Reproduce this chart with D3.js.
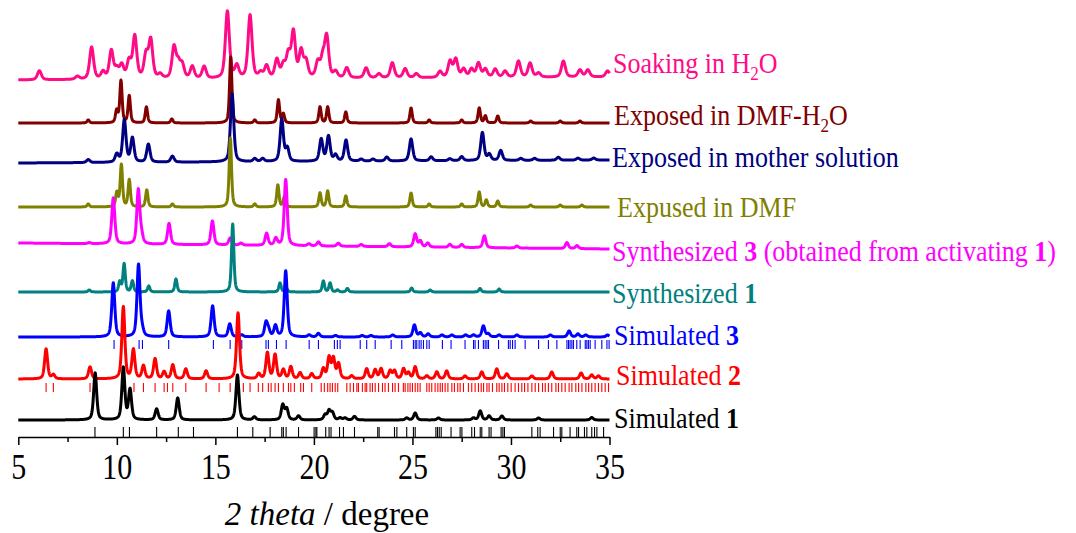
<!DOCTYPE html>
<html>
<head>
<meta charset="utf-8">
<script src="https://cdn.jsdelivr.net/npm/d3@7"></script>
<style>
body { margin: 0; background: #fff; }
text { font-family: "Times New Roman", "Liberation Serif", serif; }
</style>
</head>
<body>
<div id="chart"></div>
<script>
// x axis
var xTicks = [5, 10, 15, 20, 25, 30, 35];
var xMinorTicks = [7.5, 12.5, 17.5, 22.5, 27.5, 32.5];

// peaks: [2theta, height]
var soakingPeaks = [[6.07,9],[8.0,3],[8.72,32],[9.3,7],[9.72,28],[10.0,9],[10.25,13],[10.62,17],[10.91,42],[11.48,23],[11.72,38],[12.2,4],[12.9,31],[13.12,14],[13.32,13],[13.83,12],[14.43,12],[15.61,67],[16.09,12],[16.76,63],[17.3,5],[17.6,12],[18.12,18],[18.45,12],[18.7,22],[18.96,45],[19.35,26],[19.6,16],[20.2,15],[20.45,18],[20.65,40],[21.1,6],[21.67,10],[22.65,10],[23.3,4],[23.98,15],[24.63,9],[25.2,4],[26.4,6],[26.91,16],[27.2,18],[27.6,8],[28.0,8],[28.35,14],[28.7,8],[29.2,8],[29.7,6],[30.38,16],[30.97,14],[31.4,4],[32.66,16],[33.5,7],[33.9,7],[34.9,6]];
var dmfH2OPeaks = [[8.55,3],[9.99,12],[10.21,42],[10.63,27],[11.5,16],[12.79,4],[15.78,66],[17.0,3],[18.2,23],[18.45,9],[20.31,16],[20.7,16],[21.62,11],[24.93,15],[25.85,3],[27.5,3],[28.39,15],[28.7,7],[29.33,7],[31.0,2],[32.5,2],[33.5,2]];
var motherPeaks = [[8.55,3],[10.0,8],[10.38,42],[10.79,24],[11.6,18],[12.82,6],[15.85,68],[17.0,3],[17.4,3],[18.37,42],[18.65,13],[20.37,22],[20.74,25],[21.1,6],[21.63,21],[22.4,2],[23.0,2],[23.7,4],[24.93,22],[25.95,4],[26.9,2],[27.5,4],[28.55,28],[28.9,6],[29.48,10],[30.5,2],[31.2,2],[32.4,3],[33.4,2],[34.2,2]];
var dmfPeaks = [[8.55,3],[10.0,14],[10.23,42],[10.63,27],[11.52,17],[12.82,3],[15.76,69],[17.0,3],[18.17,22],[18.5,10],[20.31,14],[20.7,16],[21.62,11],[24.93,14],[25.85,3],[27.5,3],[28.39,15],[28.75,7],[29.33,6],[31.0,2],[32.5,2],[33.6,2]];
var synth3Peaks = [[8.6,1],[9.82,46],[11.09,54],[11.25,8],[12.65,21],[14.85,24],[15.75,7],[16.3,2],[17.6,12],[18.07,7],[18.57,66],[19.75,2],[20.23,4],[21.24,3],[22.4,2],[23.83,3],[25.14,13],[25.4,6],[25.78,4],[26.9,3],[27.5,3],[28.65,12],[30.3,2],[32.84,6],[33.35,3]];
var synth1Peaks = [[8.6,2],[10.15,10],[10.37,28],[10.79,11],[11.62,6],[13.0,13],[15.88,68],[18.28,9],[18.6,4],[20.48,11],[20.82,9],[21.2,2],[21.7,3.5],[24.96,4],[25.9,2],[28.43,3.5],[29.4,3]];
var sim3Peaks = [[9.82,54],[11.1,72],[11.28,6],[12.63,26],[14.86,31],[15.73,13],[16.34,2],[17.57,14],[17.7,6],[18.05,11],[18.57,66],[19.76,2],[20.23,3.5],[21.1,1.5],[22.45,1.5],[22.9,1.5],[24.0,2],[25.1,12],[25.4,4],[25.8,3],[26.5,2],[27.0,2],[27.7,2],[28.1,2],[28.6,11],[28.85,3],[29.4,2],[30.3,2],[32.0,2],[32.95,6],[33.4,3],[33.8,2],[34.9,2]];
var sim2Peaks = [[6.41,30],[6.78,4],[8.64,12],[10.33,72],[10.84,29],[11.35,13],[11.94,20],[12.4,7],[12.84,14],[13.5,10],[14.53,8],[16.15,66],[17.2,5],[17.64,26],[18.03,24],[18.45,9],[18.83,12],[19.3,6],[19.89,5],[20.48,10],[20.77,21],[20.99,20],[21.25,15],[21.92,3],[22.68,10],[23.11,9],[23.41,10],[23.87,8],[24.09,8],[24.55,10],[24.8,6],[25.14,12],[25.73,3],[26.24,7],[26.74,8],[27.67,3],[28.52,7],[29.28,10],[29.79,5],[31.06,3],[32.07,7],[33.56,6],[34.1,4],[34.44,3]];
var sim1Peaks = [[8.9,47],[10.33,52],[10.67,30],[12.02,11],[13.09,22],[16.12,45],[16.98,3],[18.42,15],[18.62,11],[19.22,4],[20.57,5],[20.77,9],[20.94,7],[21.33,2],[21.58,2],[22.06,3.5],[24.71,2],[25.14,7],[26.32,2],[28.1,2],[28.44,9],[28.89,4],[29.54,4],[31.4,2],[34.1,2.5]];

// reflection positions (tick rows under the simulated patterns)
var sim3Refl = [9.86,11.13,11.3,12.63,14.9,15.75,16.34,17.57,17.69,18.1,18.59,19.76,20.23,21.04,21.19,21.33,22.35,22.68,23.11,23.92,24.46,25.05,25.14,25.22,25.34,25.44,25.56,25.73,25.85,26.52,26.96,27.67,28.1,28.18,28.35,28.6,28.69,28.78,28.86,29.37,29.87,29.96,30.08,30.21,30.72,31.4,31.9,32.33,32.84,32.92,33.0,33.09,33.17,33.34,33.51,33.77,33.85,33.93,34.02,34.27,34.61,34.87,34.98];
var sim2Refl = [6.41,6.78,8.64,10.33,10.87,11.35,11.94,12.4,12.57,12.84,13.5,14.53,15.19,15.75,16.17,16.42,16.76,17.18,17.4,17.69,17.83,18.03,18.2,18.45,18.71,18.83,19.01,19.33,19.47,19.89,20.37,20.53,20.7,20.82,20.94,21.08,21.21,21.67,21.84,22.01,22.18,22.26,22.46,22.6,22.68,22.85,22.97,23.11,23.28,23.48,23.61,23.78,23.99,24.12,24.29,24.54,24.63,24.77,24.88,25.0,25.14,25.27,25.39,25.73,25.85,25.98,26.15,26.29,26.41,26.52,26.66,26.8,27.0,27.13,27.3,27.42,27.59,27.84,28.01,28.18,28.35,28.49,28.61,28.78,28.89,29.06,29.28,29.4,29.54,29.67,29.84,30.01,30.21,30.38,30.55,30.69,30.86,31.06,31.23,31.4,31.6,31.74,31.9,32.07,32.28,32.41,32.58,32.75,32.95,33.09,33.29,33.43,33.6,33.8,33.94,34.1,34.27,34.44,34.61,34.78,34.95];
var sim1Refl = [8.89,10.33,10.64,12.02,13.12,13.89,16.12,16.9,17.78,18.37,18.45,18.59,19.22,20.01,20.1,20.15,20.6,20.77,20.87,21.3,21.5,22.06,23.24,23.31,24.09,24.21,24.71,25.05,25.14,26.19,26.27,26.36,26.46,26.96,27.42,27.51,28.01,28.15,28.44,28.52,28.89,28.99,29.5,29.59,29.67,31.06,31.36,31.48,32.16,32.5,32.58,33.0,33.34,33.43,33.73,33.85,34.1,34.24,34.36,34.7];

// legend texts: [text, style] pieces
var labelParts = [
    [["Soaking in H"], ["2", "sub"], ["O"]],
    [["Exposed in DMF-H"], ["2", "sub"], ["O"]],
    [["Exposed in mother solution"]],
    [["Expused in DMF"]],
    [["Synthesized "], ["3", "b"], [" (obtained from activating "], ["1", "b"], [")"]],
    [["Synthesized "], ["1", "b"]],
    [["Simulated "], ["3", "b"]],
    [["Simulated "], ["2", "b"]],
    [["Simulated "], ["1", "b"]]
];

// layout and style, top pattern first
var series = [
    {peaks: soakingPeaks, hw: 0.12, off: [357, 360], color: "#ff0a87", lw: 3, lx: 613, ly: 64},
    {peaks: dmfH2OPeaks,  hw: 0.07, off: [314, 314], color: "#800000", lw: 3, lx: 614, ly: 116},
    {peaks: motherPeaks,  hw: 0.1,  off: [274, 277], color: "#000080", lw: 3, lx: 612, ly: 158},
    {peaks: dmfPeaks,     hw: 0.07, off: [230, 230], color: "#808000", lw: 3, lx: 617, ly: 208},
    {peaks: synth3Peaks,  hw: 0.09, off: [194, 188], color: "#ff00ff", lw: 3, lx: 612, ly: 252},
    {peaks: synth1Peaks,  hw: 0.07, off: [145, 145], color: "#008080", lw: 3, lx: 612, ly: 294},
    {peaks: sim3Peaks,    hw: 0.09, off: [100, 100], color: "#0000ff", lw: 3, lx: 614, ly: 336, refl: sim3Refl, band: [3, 12]},
    {peaks: sim2Peaks,    hw: 0.09, off: [58, 58],   color: "#ff0000", lw: 3, lx: 616, ly: 376, refl: sim2Refl, band: [4, 13]},
    {peaks: sim1Peaks,    hw: 0.09, off: [17, 17],   color: "#000000", lw: 3, lx: 614, ly: 419, refl: sim1Refl, band: [7, 17]}
];

var w = 1076,
    h = 533;

var svg = d3.select("#chart").append("svg")
    .attr("width", w)
    .attr("height", h);

var x = d3.scaleLinear().domain([5, 35]).range([18.3, 609.5]);
var y = d3.scaleLinear().domain([0, 437]).range([437, 0]);

var grid = d3.range(5, 35.0001, 0.01);

// pseudo-voigt sum of the read peaks
function pattern(t, peaks, hw) {
    var s = 0;
    peaks.forEach(function(p) {
        var u = (t - p[0]) / hw;
        s += p[1] * (0.5 / (1 + u * u) + 0.5 * Math.exp(-0.6931 * u * u));
    });
    return s;
}

var line = d3.line()
    .x(function(d) { return x(d[0]); })
    .y(function(d) { return y(d[1]); });

series.forEach(function(s, i) {
    var pts = grid.map(function(t) {
        var base = s.off[0] + (s.off[1] - s.off[0]) * (t - 5) / 30;
        return [t, base + pattern(t, s.peaks, s.hw)];
    });

    svg.append("path")
        .datum(pts)
        .attr("d", line)
        .attr("fill", "none")
        .attr("stroke", s.color)
        .attr("stroke-width", s.lw)
        .attr("stroke-linejoin", "round");

    if (s.refl) {
        svg.append("g").selectAll("line")
            .data(s.refl)
            .enter().append("line")
            .attr("x1", function(d) { return x(d); })
            .attr("x2", function(d) { return x(d); })
            .attr("y1", y(s.off[0] - s.band[0]))
            .attr("y2", y(s.off[0] - s.band[1]))
            .attr("stroke", s.color)
            .attr("stroke-width", 1.1);
    }

    // labels in the original are a bit stretched vertically
    var txt = svg.append("text")
        .attr("transform", "translate(" + s.lx + "," + s.ly + ") scale(1,1.1)")
        .attr("dy", "0.33em")
        .attr("font-size", 26)
        .attr("fill", s.color);

    var inSub = false;
    labelParts[i].forEach(function(part) {
        var ts = txt.append("tspan").text(part[0]);
        if (part[1] === "b") ts.attr("font-weight", "bold");
        if (part[1] === "sub") {
            ts.attr("font-size", 17).attr("dy", 6);
            inSub = true;
        } else if (inSub) {
            ts.attr("dy", -6);
            inSub = false;
        }
    });
});

// x axis
var gx = svg.append("g")
    .attr("transform", "translate(0," + y(0) + ")")
    .call(d3.axisBottom(x).tickValues(xTicks).tickSize(8).tickSizeOuter(0).tickFormat(d3.format("d")));

gx.append("g")
    .call(d3.axisBottom(x).tickValues(xMinorTicks).tickSize(5).tickFormat(""))
    .select(".domain").remove();

gx.selectAll("path, line").attr("stroke", "#000").attr("stroke-width", 1.5);
gx.selectAll("text")
    .attr("font-family", null)
    .attr("font-size", 30)
    .attr("fill", "#000")
    .attr("y", 0)
    .attr("dy", "0.35em")
    .attr("transform", "translate(0,30) scale(1,1.18)");

var xl = svg.append("text")
    .attr("x", 327)
    .attr("y", 525)
    .attr("text-anchor", "middle")
    .attr("font-size", 33)
    .attr("fill", "#000");
xl.append("tspan").attr("font-style", "italic").text("2 theta");
xl.append("tspan").text(" / degree");
</script>
</body>
</html>
